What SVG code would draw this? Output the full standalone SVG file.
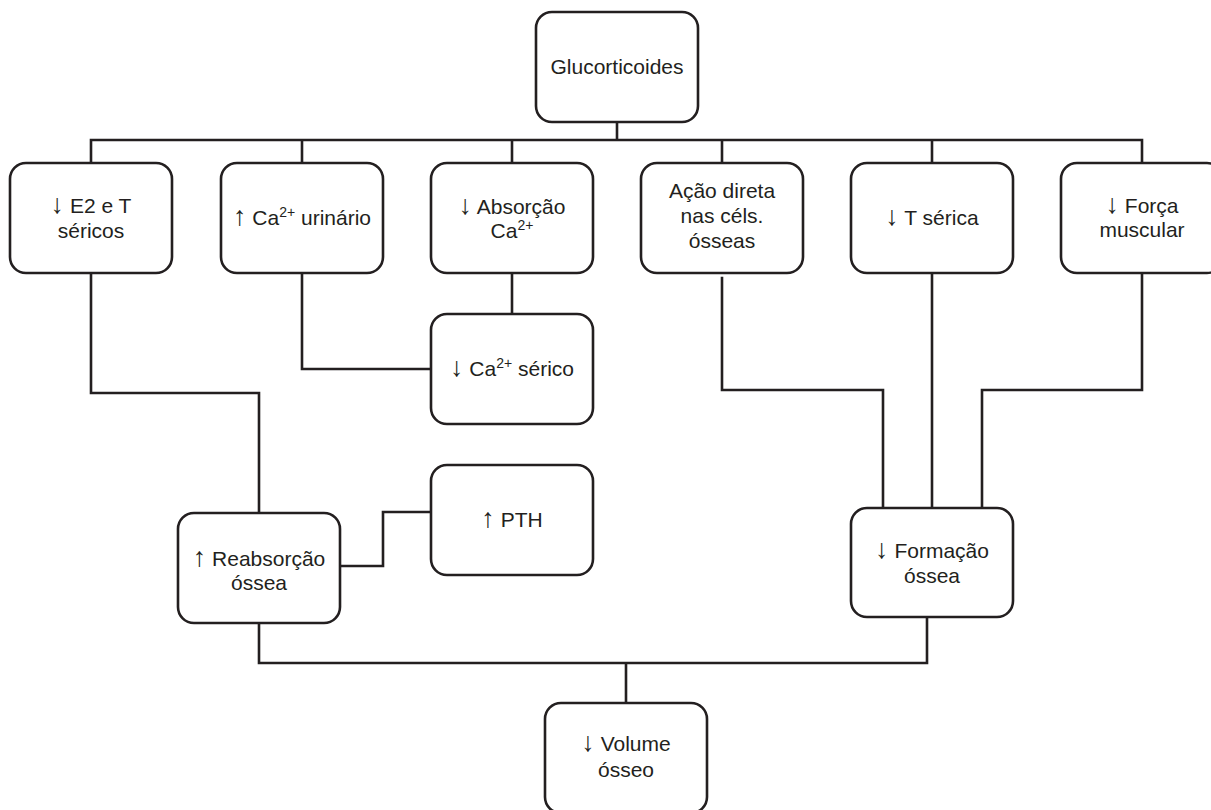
<svg xmlns="http://www.w3.org/2000/svg" width="1211" height="810" viewBox="0 0 1211 810">
<style>
.box{fill:#fff;stroke:#231f20;stroke-width:2.6}
.ln{fill:none;stroke:#231f20;stroke-width:2.6;stroke-linejoin:miter;stroke-linecap:square}
text{font-family:"Liberation Sans",Arial,sans-serif;font-size:21px;fill:#231f20;text-anchor:middle}
.sup{font-size:14px}
.ar{font-size:27px}
</style>
<rect width="1211" height="810" fill="#fff"/>
<g id="connectors">
<path class="ln" d="M617,122V140M91,163V140H1142V163M302,140V163M512,140V163M722,140V163M932,140V163"/>
<path class="ln" d="M91,273V393H259V513"/>
<path class="ln" d="M302,273V369H431"/>
<path class="ln" d="M512,273V314"/>
<path class="ln" d="M722,278V390H883V508"/>
<path class="ln" d="M932,273V508"/>
<path class="ln" d="M1142,273V390H982V508"/>
<path class="ln" d="M341,566H383V512H431"/>
<path class="ln" d="M259,623V663H927V617M626,663V703"/>
</g>
<g id="glucocorticoides"><rect class="box" x="536" y="12" width="162" height="110" rx="16"/><text x="617" y="74">Glucorticoides</text></g>
<g id="e2t"><rect class="box" x="10" y="163" width="162" height="110" rx="16"/><text x="91" y="213"><tspan class="ar">↓</tspan> E2 e T</text><text x="91" y="238">séricos</text></g>
<g id="ca-urinario"><rect class="box" x="221" y="163" width="162" height="110" rx="16"/><text x="302" y="225"><tspan class="ar">↑</tspan> Ca<tspan class="sup" dy="-8">2+</tspan><tspan dy="8"> urinário</tspan></text></g>
<g id="absorcao"><rect class="box" x="431" y="163" width="162" height="110" rx="16"/><text x="512" y="214"><tspan class="ar">↓</tspan> Absorção</text><text x="512" y="238">Ca<tspan class="sup" dy="-8">2+</tspan></text></g>
<g id="acao-direta"><rect class="box" x="641" y="163" width="162" height="110" rx="16"/><text x="722" y="198">Ação direta</text><text x="722" y="223">nas céls.</text><text x="722" y="248">ósseas</text></g>
<g id="t-serica"><rect class="box" x="851" y="163" width="162" height="110" rx="16"/><text x="932" y="225"><tspan class="ar">↓</tspan> T sérica</text></g>
<g id="forca"><rect class="box" x="1061" y="163" width="162" height="110" rx="16"/><text x="1142" y="213"><tspan class="ar">↓</tspan> Força</text><text x="1142" y="237">muscular</text></g>
<g id="ca-serico"><rect class="box" x="431" y="314" width="162" height="110" rx="16"/><text x="512" y="376"><tspan class="ar">↓</tspan> Ca<tspan class="sup" dy="-8">2+</tspan><tspan dy="8"> sérico</tspan></text></g>
<g id="pth"><rect class="box" x="431" y="465" width="162" height="110" rx="16"/><text x="512" y="527"><tspan class="ar">↑</tspan> PTH</text></g>
<g id="reabsorcao"><rect class="box" x="178" y="513" width="162" height="110" rx="16"/><text x="259" y="566"><tspan class="ar">↑</tspan> Reabsorção</text><text x="259" y="590">óssea</text></g>
<g id="formacao"><rect class="box" x="851" y="508" width="162" height="109" rx="16"/><text x="932" y="558"><tspan class="ar">↓</tspan> Formação</text><text x="932" y="583">óssea</text></g>
<g id="volume"><rect class="box" x="545" y="703" width="162" height="110" rx="16"/><text x="626" y="751"><tspan class="ar">↓</tspan> Volume</text><text x="626" y="777">ósseo</text></g>
</svg>
